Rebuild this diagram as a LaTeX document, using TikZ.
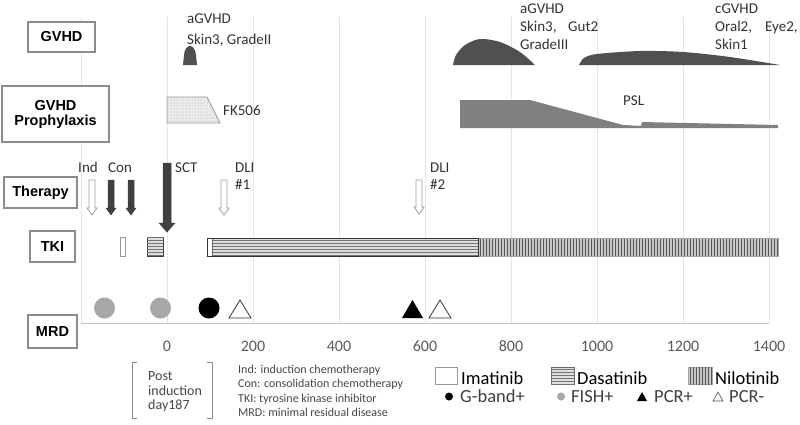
\documentclass[tikz,border=0pt]{standalone}
\usepackage{fontspec}
\setmainfont{Carlito}
\newfontfamily\lblfont{Liberation Sans}
\usetikzlibrary{patterns}
\definecolor{gridc}{HTML}{E4E4E4}
\definecolor{gvhdc}{HTML}{505050}
\definecolor{pslc}{HTML}{808080}
\definecolor{boxc}{HTML}{8C8C8C}
\definecolor{axc}{HTML}{5A5A5A}
\definecolor{fishc}{HTML}{A8A8A8}
\newcommand\dnarrow[7]{%
  \filldraw[#7] (#1-#4,#2) -- (#1+#4,#2) -- (#1+#4,#3-#6) -- (#1+#5,#3-#6) -- (#1,#3) -- (#1-#5,#3-#6) -- (#1-#4,#3-#6) -- cycle;}
\tikzset{
  rowlabel/.style={draw=boxc, line width=1.2pt, fill=white, font=\lblfont\bfseries\fontsize{14.5}{16}\selectfont, align=center, inner sep=0pt},
  ann/.style={font=\fontsize{15}{18}\selectfont, anchor=base west, inner sep=0pt, text=black!80},
  axlab/.style={font=\fontsize{16}{18}\selectfont, anchor=base, inner sep=0pt, text=axc},
  abbr/.style={font=\fontsize{12}{14}\selectfont, anchor=base west, inner sep=0pt, text=black!72},
  legtxt/.style={font=\fontsize{18.5}{21}\selectfont, anchor=base west, inner sep=0pt},
  hollowarrow/.style={draw=gray!75, fill=white, line width=0.8pt},
  darkarrow/.style={draw=black!75, fill=black!75, line width=0.5pt},
  dasa/.style={fill=gray!25, postaction={pattern=horizontal lines, pattern color=black!55}},
  nilo/.style={fill=gray!45, postaction={pattern=vertical lines, pattern color=black!65}},
}
\begin{document}
\begin{tikzpicture}[x=1pt,y=-1pt]
\useasboundingbox (0,0) rectangle (800,424);
\fill[white] (0,0) rectangle (800,424);
% grid
\foreach \gx in {81,167,...,769} \draw[gridc, line width=1pt] (\gx,17) -- (\gx,323);
\draw[gridc!85!black, line width=1pt] (81,323) -- (769,323);
% axis labels
\foreach \v/\gx in {0/167,200/253,400/339,600/425,800/511,1000/597,1200/683,1400/769}
  \node[axlab] (ax\v) at (\gx,351.5) {\v};
% row labels
\node[rowlabel, minimum width=67pt, minimum height=30pt] (lgvhd) at (61.5,37) {GVHD};
\node[rowlabel, minimum width=107pt, minimum height=56pt] (lproph) at (55.5,114) {GVHD\\[-1pt]Prophylaxis};
\node[rowlabel, minimum width=73pt, minimum height=31pt] (lther) at (40.5,192.5) {Therapy};
\node[rowlabel, minimum width=45pt, minimum height=31pt] (ltki) at (52.5,246.5) {TKI};
\node[rowlabel, minimum width=49pt, minimum height=33pt] (lmrd) at (52.5,331.5) {MRD};
% GVHD row
\fill[gvhdc] (183,65) -- (184,55) .. controls (185,43) and (195,43) .. (196,55) -- (197,65) -- cycle;
\fill[gvhdc] plot[smooth] coordinates {(453,65) (456,55) (465,45) (480,39) (500,42) (520,52) (535,65)} -- cycle;
\fill[gvhdc] plot[smooth] coordinates {(579,65) (584,58) (597,54) (640,51) (683,52) (730,57) (780,65)} -- cycle;
\node[ann] (ag1) at (187,23) {aGVHD};
\node[ann] (ag1b) at (187,44) {Skin3, GradeII};
\node[ann] (ag2) at (520,13) {aGVHD};
\node[ann] (ag2b) at (520,31) {Skin3,};
\node[ann] (ag2c) at (568,31) {Gut2};
\node[ann] (ag2d) at (520,49) {GradeIII};
\node[ann] (cg) at (715,13) {cGVHD};
\node[ann] (cgb) at (715,31) {Oral2,};
\node[ann] (cgc) at (765,31) {Eye2,};
\node[ann] (cgd) at (715,49) {Skin1};
% Prophylaxis row
\filldraw[draw=gray!80, line width=0.7pt, fill=gray!15, postaction={pattern=dots, pattern color=gray!70}] (167,97) -- (207,97) -- (220,123) -- (167,123) -- cycle;
\node[ann] (fk) at (223,115) {FK506};
\fill[pslc] (460,128) -- (460,100) -- (530,100) -- (623,125) -- (641,126) -- (642,122) -- (778,125) -- (778,128) -- cycle;
\node[ann] (psl) at (623,105) {PSL};
% Therapy row
\dnarrow{92}{180}{215}{3}{5}{7}{hollowarrow}
\dnarrow{111}{180}{215}{3}{5}{7}{darkarrow}
\dnarrow{131}{180}{215}{3}{5}{7}{darkarrow}
\dnarrow{167}{163}{232}{4}{8}{9}{darkarrow}
\dnarrow{224}{180}{215}{3}{5}{7}{hollowarrow}
\dnarrow{419}{180}{214}{3}{5}{7}{hollowarrow}
\node[ann, anchor=base] (tind) at (88,172) {Ind};
\node[ann, anchor=base] (tcon) at (120,172) {Con};
\node[ann] (tsct) at (175,172) {SCT};
\node[ann] (tdli1) at (235,172) {DLI};
\node[ann] (tdli1b) at (235,189) {\#1};
\node[ann] (tdli2) at (430,172) {DLI};
\node[ann] (tdli2b) at (430,189) {\#2};
% TKI row
\draw[gray!80, line width=0.8pt, fill=white] (120,237) rectangle (125,256);
\filldraw[dasa, draw=black!75, line width=0.8pt] (147,237) rectangle (163,256);
\filldraw[dasa, draw=none] (212,238) rectangle (478,256);
\filldraw[nilo, draw=none] (478,238) rectangle (778,256);
\draw[gray!70, line width=0.8pt] (478,238) rectangle (778,256);
\draw[black!80, line width=0.9pt] (207,238) rectangle (478,256);
\draw[black!60, line width=0.6pt] (212,238) -- (212,256);
% MRD row
\node[circle, fill=fishc, minimum size=21pt, inner sep=0pt] (m1) at (104.5,308) {};
\node[circle, fill=fishc, minimum size=21pt, inner sep=0pt] (m2) at (160.5,308) {};
\node[circle, fill=black, minimum size=21pt, inner sep=0pt] (m3) at (209,308) {};
\draw[black!80, line width=0.8pt] (229,318) -- (251,318) -- (240,300) -- cycle;
\fill[black] (402,318) -- (423,318) -- (412.5,300) -- cycle;
\draw[black!80, line width=0.8pt] (429,318) -- (451,318) -- (440,300) -- cycle;
% bracket note
\draw[boxc, line width=1pt] (137,362) -- (132,362) -- (132,418) -- (137,418);
\draw[boxc, line width=1pt] (207,362) -- (212,362) -- (212,418) -- (207,418);
\node[abbr, font=\fontsize{14}{15}\selectfont] (pi1) at (148,380) {Post};
\node[abbr, font=\fontsize{14}{15}\selectfont] (pi2) at (148,395) {induction};
\node[abbr, font=\fontsize{14}{15}\selectfont] (pi3) at (148,409.5) {day187};
% abbreviations
\node[abbr] (ab1) at (238,373) {Ind: induction chemotherapy};
\node[abbr] (ab2) at (238,387) {Con: consolidation chemotherapy};
\node[abbr] (ab3) at (238,402) {TKI: tyrosine kinase inhibitor};
\node[abbr] (ab4) at (238,416) {MRD: minimal residual disease};
% legend
\draw[gray!80, line width=0.8pt, fill=white] (435,367) rectangle (457,384);
\node[legtxt] (lim) at (461,384) {Imatinib};
\filldraw[dasa, draw=black!60, line width=0.6pt] (551,367) rectangle (574,384);
\node[legtxt] (lda) at (577,384) {Dasatinib};
\filldraw[nilo, draw=gray!70, line width=0.6pt] (688,367) rectangle (712,384);
\node[legtxt] (lni) at (715,384) {Nilotinib};
\node[circle, fill=black, minimum size=8pt, inner sep=0pt] (lg1) at (449,396.5) {};
\node[legtxt, text=black!75] (lgt1) at (460,402) {G-band+};
\node[circle, fill=fishc, minimum size=8pt, inner sep=0pt] (lg2) at (561,396.5) {};
\node[legtxt, text=black!75] (lgt2) at (571,402) {FISH+};
\fill[black] (637,401) -- (647,401) -- (642,392) -- cycle;
\node[legtxt, text=black!75] (lgt3) at (654,402) {PCR+};
\draw[black!70, line width=0.6pt] (713,401) -- (723,401) -- (718,392) -- cycle;
\node[legtxt, text=black!75] (lgt4) at (729,402) {PCR-};
\end{tikzpicture}
\end{document}
